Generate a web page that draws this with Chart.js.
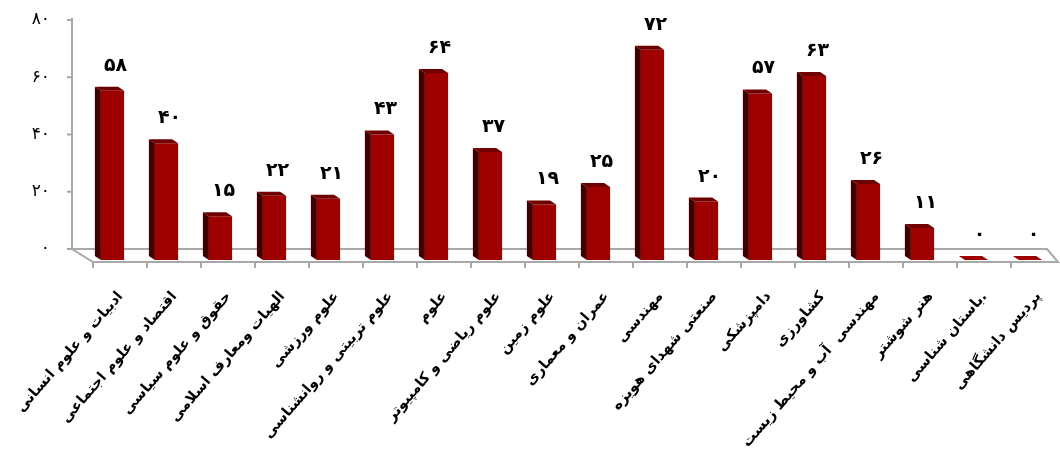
<!DOCTYPE html>
<html><head><meta charset="utf-8">
<script src="https://cdn.jsdelivr.net/npm/chart.js@4"></script>
<style>html,body{margin:0;padding:0;background:#fff}canvas{display:block}</style>
</head><body>
<canvas id="c" width="1060" height="450"></canvas>
<script>
const categories = [
  'ادبیات و علوم انسانی',
  'اقتصاد و علوم اجتماعی',
  'حقوق و علوم سیاسی',
  'الهیات ومعارف اسلامی',
  'علوم ورزشی',
  'علوم تربیتی و روانشناسی',
  'علوم',
  'علوم ریاضی و کامپیوتر',
  'علوم زمین',
  'عمران و معماری',
  'مهندسی',
  'صنعتی شهدای هویزه',
  'دامپزشکی',
  'کشاورزی',
  'مهندسی  آب و محیط زیست',
  'هنر شوشتر',
  'باستان شناسی.',
  'پردیس دانشگاهی'
];
const values = [58, 40, 15, 22, 21, 43, 64, 37, 19, 25, 72, 20, 57, 63, 26, 11, 0, 0];
const yTicks = [0, 20, 40, 60, 80];

const FA = '۰۱۲۳۴۵۶۷۸۹';
const fa = v => String(v).replace(/\d/g, d => FA[d]);

const FRONT = '#9E0000', SIDE = '#3E0000', CAP = '#700000', AXIS = '#A8A8A8';
const DX = 6, DY = 4, SHIFT = 7.5;
const LABEL_ANGLE = 49 * Math.PI / 180;

const threeD = {
  id: 'threeD',
  beforeDatasetsDraw(chart) {
    const ctx = chart.ctx, ca = chart.chartArea;
    const ys = chart.scales.y;
    const y0 = ys.getPixelForValue(0);
    const yf = ca.bottom + 2;
    const backL = 72, frontL = ca.left + SHIFT;
    const frontR = 1058, backR = 1047;
    ctx.save();
    ctx.strokeStyle = AXIS;
    ctx.lineWidth = 2;
    ctx.beginPath();
    ctx.moveTo(backL, ys.getPixelForValue(80) - 2);
    ctx.lineTo(backL, y0);
    ctx.stroke();
    yTicks.forEach(v => {
      const p = ys.getPixelForValue(v);
      ctx.beginPath(); ctx.moveTo(backL - 5, p); ctx.lineTo(backL, p); ctx.stroke();
    });
    ctx.beginPath();
    ctx.moveTo(backL, y0); ctx.lineTo(backR, y0); ctx.lineTo(frontR, yf);
    ctx.lineTo(frontL, yf); ctx.closePath();
    ctx.stroke();
    const cw = (ca.right - ca.left) / categories.length;
    for (let k = 0; k < categories.length; k++) {
      const px = frontL + k * cw;
      ctx.beginPath(); ctx.moveTo(px, yf); ctx.lineTo(px, yf + 6); ctx.stroke();
    }
    ctx.restore();
  },
  afterDatasetsDraw(chart) {
    const ctx = chart.ctx;
    const meta = chart.getDatasetMeta(0);
    ctx.save();
    meta.data.forEach((bar, i) => {
      const p = bar.getProps(['x', 'y', 'base', 'width'], true);
      const x0 = p.x - p.width / 2, x1 = p.x + p.width / 2;
      ctx.fillStyle = SIDE;
      ctx.beginPath();
      ctx.moveTo(x0, p.y); ctx.lineTo(x0 - DX, p.y - DY);
      ctx.lineTo(x0 - DX, p.base - DY); ctx.lineTo(x0, p.base); ctx.closePath(); ctx.fill();
      ctx.fillStyle = values[i] === 0 ? FRONT : CAP;
      ctx.beginPath();
      ctx.moveTo(x0, p.y); ctx.lineTo(x0 - DX, p.y - DY);
      ctx.lineTo(x1 - DX, p.y - DY); ctx.lineTo(x1, p.y); ctx.closePath(); ctx.fill();
      ctx.fillStyle = '#000';
      ctx.font = 'bold 19px "DejaVu Sans"';
      ctx.textAlign = 'center';
      ctx.textBaseline = 'middle';
      ctx.fillText(fa(values[i]), p.x + 3, p.y - 25);
    });
    ctx.restore();
  },
  afterDraw(chart) {
    const ctx = chart.ctx, xs = chart.scales.x, ca = chart.chartArea;
    ctx.save();
    ctx.fillStyle = '#000';
    ctx.font = 'bold 14.5px "DejaVu Sans"';
    ctx.textAlign = 'right';
    ctx.textBaseline = 'middle';
    categories.forEach((lab, i) => {
      const px = xs.getPixelForTick(i);
      ctx.save();
      ctx.translate(px + 8, ca.bottom + 34);
      ctx.rotate(-LABEL_ANGLE);
      ctx.fillText(lab, 0, 0);
      ctx.restore();
    });
    ctx.restore();
  }
};

new Chart(document.getElementById('c'), {
  type: 'bar',
  data: {
    labels: categories,
    datasets: [{
      data: values,
      yAxisID: 'yb',
      backgroundColor: FRONT,
      borderWidth: 0,
      categoryPercentage: 1,
      barPercentage: 0.43
    }]
  },
  options: {
    responsive: false,
    animation: false,
    devicePixelRatio: 1,
    layout: { padding: { top: 20, right: 2.5, left: 0, bottom: 0 } },
    plugins: { legend: { display: false }, tooltip: { enabled: false } },
    scales: {
      x: {
        offset: true,
        grid: { display: false, drawTicks: false },
        border: { display: false },
        ticks: { display: false, autoSkip: false },
        afterFit: s => { s.height = 190; s.paddingLeft = 0; s.paddingRight = 0; }
      },
      y: {
        position: 'left',
        min: -3.843, max: 80,
        afterBuildTicks: s => { s.ticks = yTicks.map(v => ({ value: v })); },
        grid: { display: false, drawTicks: false },
        border: { display: false },
        ticks: {
          padding: 35.5, color: '#000',
          font: { family: 'DejaVu Sans', size: 17 },
          callback: v => fa(v)
        },
        afterFit: s => { s.width = 85.5; s.paddingTop = 0; s.paddingBottom = 0; }
      },
      yb: { display: false, min: 0, max: 82.19 }
    }
  },
  plugins: [threeD]
});
</script>
</body></html>
